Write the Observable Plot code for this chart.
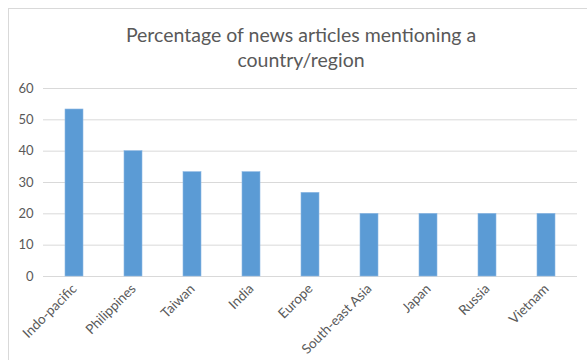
<!DOCTYPE html>
<html>
<head>
<meta charset="utf-8">
<script src="https://cdn.jsdelivr.net/npm/d3@7"></script>
<script src="https://cdn.jsdelivr.net/npm/@observablehq/plot@0.6"></script>
<style>
  html, body { margin: 0; padding: 0; background: #fff; width: 587px; height: 360px; overflow: hidden; }
  #frame { position: absolute; left: 8px; top: 8px; right: -2px; bottom: -2px; border-left: 1px solid #d9d9d9; border-top: 1px solid #d9d9d9; }
  #title { position: absolute; left: 0; width: 602px; top: 22px; text-align: center; font-family: Lato, "Open Sans", sans-serif; font-size: 19.5px; line-height: 25px; color: #595959; }
  #chart { position: absolute; left: 0; top: 72px; }
</style>
</head>
<body>
<div id="frame"></div>
<div id="title">Percentage of news articles mentioning a<br>country/region</div>
<div id="chart"></div>
<script>
const categories = ["Indo-pacific", "Philippines", "Taiwan", "India", "Europe", "South-east Asia", "Japan", "Russia", "Vietnam"];
const values = [53.3, 40, 33.3, 33.3, 26.7, 20, 20, 20, 20];
const yTicks = [0, 10, 20, 30, 40, 50, 60];

const data = categories.map((c, i) => ({category: c, value: values[i]}));

const chart = Plot.plot({
  width: 587,
  height: 288,
  marginLeft: 43,
  marginRight: 10,
  marginTop: 16,
  marginBottom: 84,
  style: {fontFamily: "Lato, 'Open Sans', sans-serif", color: "#595959", background: "transparent"},
  x: {domain: categories, paddingInner: 0.7, paddingOuter: 0.35, label: null},
  y: {domain: [0, 60], ticks: yTicks, label: null},
  marks: [
    Plot.gridY(yTicks, {stroke: "#d9d9d9", strokeOpacity: 1, strokeWidth: 1}),
    Plot.barY(data, {x: "category", y: "value", fill: "#5b9bd5", stroke: "#8db8e3", strokeWidth: 0.6}),
    Plot.axisY(yTicks, {tickSize: 0, tickPadding: 10, fontSize: 13, fill: "#595959", label: null}),
    Plot.axisX({tickSize: 0, tickPadding: 5, tickRotate: -45, dy: 5, fontSize: 13.5, fill: "#595959", label: null})
  ]
});
document.getElementById("chart").appendChild(chart);
</script>
</body>
</html>
